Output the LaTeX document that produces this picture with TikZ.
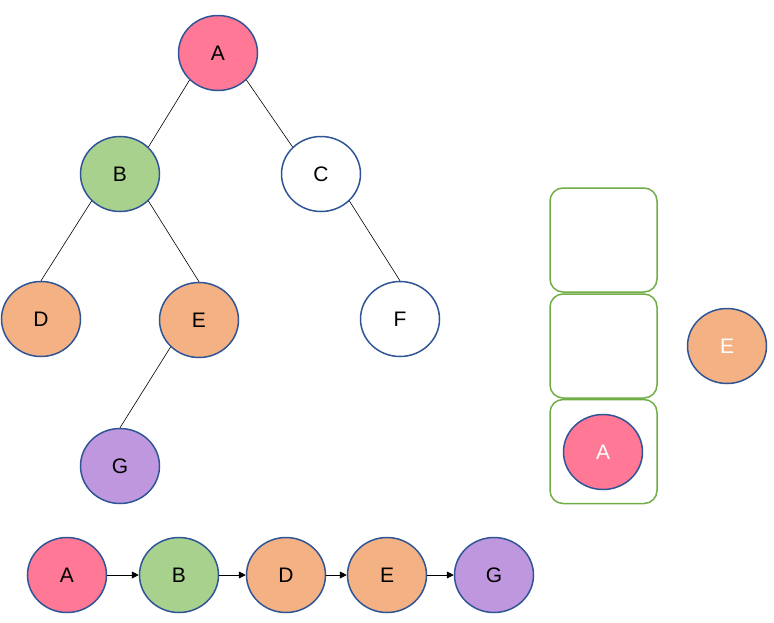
\documentclass[tikz,border=0pt]{standalone}
\usepackage{fontspec}
\setmainfont{Liberation Sans}
\usetikzlibrary{shapes.geometric,arrows.meta}
\definecolor{cpink}{HTML}{FF7896}
\definecolor{cgreen}{HTML}{A9D18E}
\definecolor{corange}{HTML}{F4B183}
\definecolor{cpurple}{HTML}{BF97DE}
\definecolor{cstroke}{HTML}{2F5597}
\definecolor{cbox}{HTML}{70AD47}
\tikzset{
  tnode/.style={ellipse, draw=cstroke, line width=1.5pt, minimum width=79pt, minimum height=75pt, inner sep=0pt, font=\fontsize{21}{25}\selectfont},
  pinkn/.style={tnode, fill=cpink},
  greenn/.style={tnode, fill=cgreen},
  orangen/.style={tnode, fill=corange},
  purplen/.style={tnode, fill=cpurple},
  whiten/.style={tnode, fill=white},
  stackbox/.style={draw=cbox, line width=1.5pt, rounded corners=13pt, minimum width=107pt, minimum height=104pt, inner sep=0pt},
  edge/.style={draw=black, line width=0.6pt},
  arr/.style={draw=black, line width=0.8pt, -{Triangle[length=7pt,width=7pt]}}
}
\begin{document}
\begin{tikzpicture}[x=1pt,y=-1pt]
\useasboundingbox (0,0) rectangle (774,622);
% tree
\node[pinkn] (A) at (218,53) {A};
\node[greenn] (B) at (120,174) {B};
\node[whiten] (C) at (321,174) {C};
\node[orangen] (D) at (41,319) {D};
\node[orangen] (E) at (199,320) {E};
\node[whiten] (F) at (400,319) {F};
\node[purplen] (G) at (120,466) {G};
\draw[edge] (A.south west) -- (B.north east);
\draw[edge] (A.south east) -- (C.north west);
\draw[edge] (B.south west) -- (D.north);
\draw[edge] (B.south east) -- (E.north);
\draw[edge] (C.south east) -- (F.north);
\draw[edge] (E.south west) -- (G.north);
% stack
\node[stackbox] (s1) at (603.5,240) {};
\node[stackbox] (s2) at (603.5,346) {};
\node[stackbox] (s3) at (603.5,451.5) {};
\node[pinkn, text=white] (sA) at (603,452) {A};
\node[orangen, text=white] (sE) at (727,346) {E};
% sequence
\node[pinkn] (q1) at (67,575) {A};
\node[greenn] (q2) at (179,575) {B};
\node[orangen] (q3) at (286,575) {D};
\node[orangen] (q4) at (387,575) {E};
\node[purplen] (q5) at (494,575) {G};
\draw[arr] (q1) -- (q2);
\draw[arr] (q2) -- (q3);
\draw[arr] (q3) -- (q4);
\draw[arr] (q4) -- (q5);
\end{tikzpicture}
\end{document}
